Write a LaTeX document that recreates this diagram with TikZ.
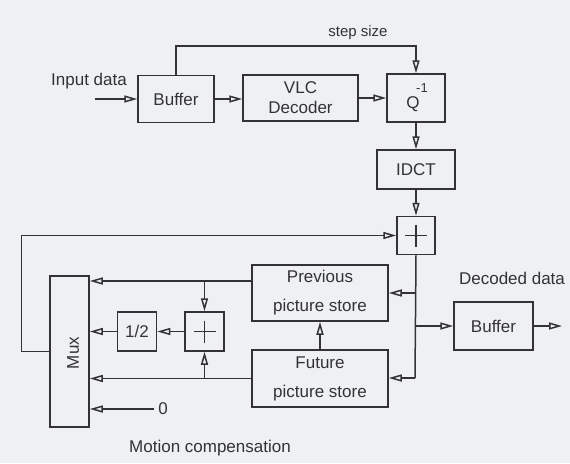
\documentclass[tikz,border=0pt]{standalone}
\usepackage{fontspec}
\setmainfont{Liberation Sans}
\usetikzlibrary{arrows.meta}
\definecolor{paper}{HTML}{EEF0F4}
\definecolor{ink}{HTML}{333337}

\tikzset{blk/.style={draw=ink, rectangle, line width=1.5pt, inner sep=0pt, align=center, font=\fontsize{17}{20}\selectfont}}
\tikzset{store/.style={blk, minimum width=136pt, font=\fontsize{17}{29}\selectfont}}
\tikzset{sq/.style={blk, minimum size=39pt}}
\tikzset{op/.style={draw=ink, line width=1.5pt, -{Triangle[open, length=13pt, width=7pt]}}}

\begin{document}
\begin{tikzpicture}[x=1pt, y=-1pt, line width=1.5pt, draw=ink, text=ink]
\fill[paper] (0,0) rectangle (570,463);
\useasboundingbox (0,0) rectangle (570,463);
% upper chain
\node[blk, minimum width=76pt, minimum height=47pt] (buf1) at (176,99) {Buffer};
\node[blk, minimum width=115pt, minimum height=46pt] (vlc) at (300.5,98) {VLC\\Decoder};
\node[blk, minimum width=58pt, minimum height=48pt] (q) at (416,98) {};
\node[font=\fontsize{17}{20}\selectfont] (qt) at (413,104) {Q};
\node[font=\fontsize{13}{15}\selectfont] (qe) at (422,88) {-1};
\node[blk, minimum width=78pt, minimum height=39pt] (idct) at (416,169.5) {IDCT};
\node[sq, minimum size=38pt] (add1) at (416,235.5) {};
\draw[line width=1.5pt] (add1.center) +(-11,0) -- +(11,0) +(0,-11) -- +(0,11);
% stores
\node[store, minimum height=56pt] (prev) at (320,293) {Previous\\picture store};
\node[store, minimum height=57pt] (fut) at (320,378.5) {Future\\picture store};
\node[blk, minimum width=79pt, minimum height=48pt] (buf2) at (493.5,326) {Buffer};
% motion compensation
\node[blk, minimum width=39pt, minimum height=151pt] (mux) at (69.5,351.5) {};
\node[rotate=90, font=\fontsize{17}{20}\selectfont] (muxt) at (73,353) {Mux};
\node[sq] (half) at (137,331.5) {1/2};
\node[sq] (add2) at (204.5,331.5) {};
\draw[line width=1.5pt] (add2.center) +(-11,0) -- +(11,0) +(0,-11) -- +(0,11);
\node[font=\fontsize{17}{20}\selectfont] (zero) at (163,409) {0};
% texts
\node[font=\fontsize{17}{20}\selectfont] (inp) at (89,81) {Input data};
\node[font=\fontsize{15}{18}\selectfont] (step) at (358,33) {step size};
\node[font=\fontsize{17}{20}\selectfont] (dec) at (512,278) {Decoded data};
\node[font=\fontsize{17}{20}\selectfont] (mc) at (210,448) {Motion compensation};
% connectors
\coordinate (in) at (95,99);
\coordinate (out) at (562,326);
\coordinate (tap) at (415,378);
\coordinate (pl) at (252,281);
\draw[op] (in) -- (buf1);
\draw[op] (buf1) -- (vlc.west |- buf1.east);
\draw[op] (vlc.east |- q.west) -- (q.west);
\draw[op] (buf1.north) -- ++(0,-29) -| (q.north);
\draw[op] (q) -- (idct);
\draw[op] (idct) -- (add1);
\draw[op] (mux.west) -- ++(-28,0) |- (add1.west);
\draw[line width=1.5pt] (add1.south) -- (tap);
\draw[op] (tap |- prev.east) -- (prev.east);
\draw[op] (tap |- buf2.west) -- (buf2.west);
\draw[op] (tap) -- (fut.east |- tap);
\draw[op] (buf2) -- (out);
\draw[op] (fut) -- (prev);
\draw[op] (pl) -- (mux.east |- pl);
\draw[op] (fut.west) -- (mux.east |- fut.west);
\draw[op] (add2.north |- pl) -- (add2.north);
\draw[op] (add2.south |- fut.west) -- (add2.south);
\draw[op] (add2) -- (half);
\draw[op] (half) -- (mux.east |- half);
\draw[op] (zero.west) -- (mux.east |- zero);
\end{tikzpicture}
\end{document}
